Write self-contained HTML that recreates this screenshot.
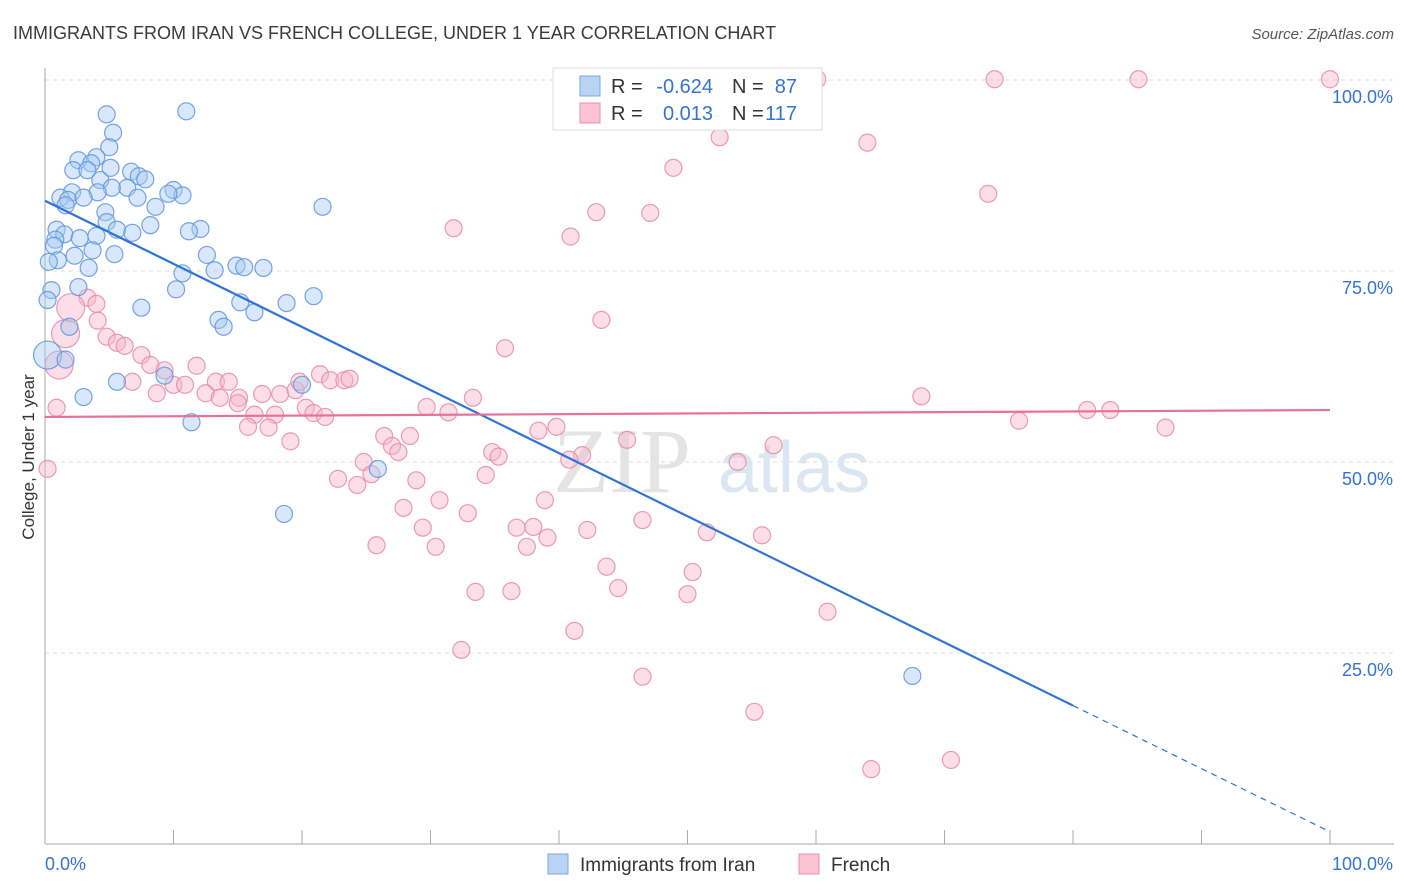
<!DOCTYPE html>
<html><head><meta charset="utf-8"><style>
body{margin:0;background:#fff;font-family:"Liberation Sans",sans-serif}
svg{display:block}
</style></head><body>
<svg id="chart" width="1406" height="892" xmlns="http://www.w3.org/2000/svg" font-family="Liberation Sans, sans-serif">
<text x="13" y="39" font-size="18" fill="#3a3a3a">IMMIGRANTS FROM IRAN VS FRENCH COLLEGE, UNDER 1 YEAR CORRELATION CHART</text>
<text x="1394" y="39" font-size="15" fill="#555" text-anchor="end" font-style="italic">Source: ZipAtlas.com</text>
<g id="grid"></g>
<text x="553" y="492" font-size="92" fill="#e4e4e4" font-family="Liberation Serif, serif">ZIP</text>
<text x="718" y="492" font-size="72" fill="#dbe6f3">atlas</text>
<g id="axes"></g>
<g id="pinkPts"></g>
<g id="bluePts"></g>
<g id="lines"></g>
<text transform="translate(34,457) rotate(-90)" font-size="17" fill="#333" text-anchor="middle">College, Under 1 year</text>
<g>
<rect x="553" y="68" width="269" height="62" fill="#fff" stroke="#ddd"/>
<rect x="580" y="76" width="20" height="20" fill="#b9d3f3" stroke="#7aa8e3"/>
<rect x="580" y="103" width="20" height="20" fill="#f9c3d4" stroke="#e992ae"/>
<text x="611" y="93" font-size="20" fill="#333">R =</text>
<text x="713" y="93" font-size="20" fill="#3473d2" text-anchor="end">-0.624</text>
<text x="732" y="93" font-size="20" fill="#333">N =</text>
<text x="797" y="93" font-size="20" fill="#3473d2" text-anchor="end">87</text>
<text x="611" y="120" font-size="20" fill="#333">R =</text>
<text x="713" y="120" font-size="20" fill="#3473d2" text-anchor="end">0.013</text>
<text x="732" y="120" font-size="20" fill="#333">N =</text>
<text x="797" y="120" font-size="20" fill="#3473d2" text-anchor="end">117</text>
</g>
<g>
<rect x="548" y="854" width="20" height="20" fill="#b9d3f3" stroke="#7aa8e3"/>
<text x="580" y="871" font-size="19" fill="#333">Immigrants from Iran</text>
<rect x="799" y="854" width="20" height="20" fill="#f9c3d4" stroke="#e992ae"/>
<text x="831" y="871" font-size="19" fill="#333">French</text>
</g>
</svg>
<script>
const yTicks=[25,50,75,100];
const yTickLabels=["25.0%","50.0%","75.0%","100.0%"];
const xTickLabels=["0.0%","100.0%"];
const blueX=[4.8,11.0,5.3,5.0,4.0,2.6,3.6,2.2,5.1,3.3,6.7,7.3,7.8,4.3,6.4,5.2,4.1,2.1,10.0,10.7,9.6,1.2,1.8,3.0,7.2,8.6,4.7,21.6,1.6,4.8,8.2,5.6,12.1,11.2,0.9,1.5,2.7,4.0,6.8,0.8,0.7,3.7,5.4,12.6,2.3,1.0,0.3,3.4,10.7,13.2,14.9,15.5,17.0,0.5,0.2,10.2,20.9,18.8,15.2,2.6,7.5,16.3,13.5,13.9,1.9,0.2,1.6,5.6,9.3,3.0,20.0,11.4,25.9,18.6,67.5];
const blueY=[95.5,95.9,93.1,91.2,89.9,89.5,89.1,88.2,88.5,88.2,88.0,87.4,87.0,86.9,85.9,85.9,85.3,85.3,85.6,84.9,85.1,84.6,84.3,84.6,84.6,83.4,82.7,83.4,83.6,81.4,81.0,80.4,80.5,80.2,80.4,79.8,79.3,79.6,80.0,79.1,78.3,77.7,77.2,77.1,77.0,76.4,76.2,75.4,74.7,75.1,75.7,75.5,75.4,72.5,71.2,72.6,71.7,70.8,70.9,72.9,70.2,69.6,68.6,67.7,67.7,64.0,63.4,60.5,61.3,58.5,60.1,55.2,49.1,43.2,22.0];
const blueBig=[65];
const pinkX=[60.1,73.9,85.1,100,52.5,64.0,48.9,73.4,42.9,47.1,31.8,40.9,43.3,35.8,1.6,3.3,4.0,4.1,4.8,5.6,6.2,7.5,8.2,9.3,1.1,11.8,6.8,10.0,10.9,13.3,14.3,8.7,12.5,15.1,13.6,16.9,18.3,19.5,19.8,21.4,22.2,23.3,23.7,15.0,16.3,17.9,20.3,20.9,21.8,15.8,17.4,19.1,26.4,27.0,28.4,27.5,29.7,31.4,33.3,38.4,39.8,45.3,41.8,40.8,34.8,35.3,24.8,25.4,22.8,24.3,34.3,28.9,30.7,27.9,32.9,38.9,36.7,38.0,29.4,42.2,46.5,51.5,55.8,25.8,30.4,37.5,39.1,43.7,50.4,33.5,36.3,44.6,50.0,60.9,41.2,32.4,46.5,55.2,64.3,70.5,56.7,53.9,68.2,75.8,81.1,82.9,87.2,0.2,0.9,2.0];
const pinkY=[100.1,100.1,100.1,100.1,92.5,91.8,88.5,85.1,82.7,82.6,80.6,79.5,68.6,64.9,66.8,71.5,70.7,68.5,66.4,65.6,65.2,64.0,62.7,62.0,62.7,62.6,60.5,60.1,60.1,60.5,60.5,59.0,59.0,58.4,58.4,58.9,58.9,59.4,60.5,61.5,60.7,60.7,60.9,57.7,56.2,56.2,57.1,56.4,55.9,54.6,54.5,52.7,53.4,52.1,53.4,51.3,57.2,56.5,58.4,54.1,54.6,52.9,50.9,50.3,51.3,50.7,50.0,48.4,47.8,47.0,48.3,47.6,45.0,44.0,43.3,45.0,41.4,41.5,41.4,41.1,42.4,40.8,40.4,39.1,38.9,38.9,40.1,36.3,35.6,33.0,33.1,33.5,32.7,30.4,27.9,25.4,21.9,17.3,9.8,11.0,52.2,50.0,58.6,55.4,56.8,56.8,54.5,49.1,57.1,70.2];
const pinkBig=[14,24,109,110,111];
const blueLine=[84.2,1.6];
const pinkLine=[55.9,56.8];
const blueSolidEnd=80;

const NS="http://www.w3.org/2000/svg";
const X0=45,X1=1330,Y0=844,Y100=80;
const xs=v=>X0+(X1-X0)*v/100;
const ys=v=>Y0-(Y0-Y100)*v/100;
function mk(tag,attrs,parent){const e=document.createElementNS(NS,tag);for(const k in attrs)e.setAttribute(k,attrs[k]);parent.appendChild(e);return e;}
const grid=document.getElementById('grid'),axes=document.getElementById('axes');
yTicks.forEach((t,i)=>{
  const l=mk('line',{x1:X0,x2:1394,y1:ys(t),y2:ys(t),stroke:'#ddd','stroke-dasharray':'4,4'},grid);
  
  
  const tx=mk('text',{x:1393,y:ys(t)+23,'font-size':18,fill:'#3473d2','text-anchor':'end'},axes);
  tx.textContent=yTickLabels[i];
  
  
});
let a=mk('line',{x1:X0,x2:X0,y1:68,y2:Y0,stroke:'#aaa'},axes);


a=mk('line',{x1:X0,x2:1394,y1:Y0,y2:Y0,stroke:'#aaa'},axes);


for(let i=0;i<=10;i++){
  const t=mk('line',{x1:xs(i*10),x2:xs(i*10),y1:830,y2:Y0,stroke:'#aaa'},axes);
  
  
}
[[0,'start',45],[100,'end',1393]].forEach((d,i)=>{
  const tx=mk('text',{x:d[2],y:870,'font-size':18,fill:'#3473d2','text-anchor':d[1]},axes);
  tx.textContent=xTickLabels[i];
  
  
});
function pts(X,Y,big,g,fill,stroke,name){
  X.forEach((v,i)=>{
    const c=mk('circle',{cx:xs(v),cy:ys(Y[i]),r:big.includes(i)?14:8.5,fill:fill,'fill-opacity':0.45,stroke:stroke,'stroke-width':1.2,'stroke-opacity':0.85},g);
    
    
  });
}
pts(pinkX,pinkY,pinkBig,document.getElementById('pinkPts'),'#f7b6ca','#e889a8','french-point');
pts(blueX,blueY,blueBig,document.getElementById('bluePts'),'#a9c9f1','#5d95dc','iran-point');
const lg=document.getElementById('lines');
const by=x=>blueLine[0]+(blueLine[1]-blueLine[0])*x/100;
let L=mk('line',{x1:xs(0),y1:ys(by(0)),x2:xs(blueSolidEnd),y2:ys(by(blueSolidEnd)),stroke:'#2f73d6','stroke-width':2.2},lg);


L=mk('line',{x1:xs(blueSolidEnd),y1:ys(by(blueSolidEnd)),x2:xs(100),y2:ys(by(100)),stroke:'#2f73d6','stroke-width':1.2,'stroke-dasharray':'6,5'},lg);


L=mk('line',{x1:xs(0),y1:ys(pinkLine[0]),x2:xs(100),y2:ys(pinkLine[1]),stroke:'#e8709a','stroke-width':2.2},lg);


</script>
</body></html>
